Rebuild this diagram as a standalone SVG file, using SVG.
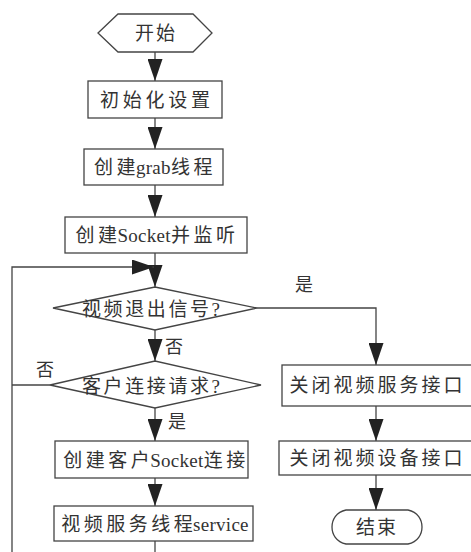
<svg xmlns="http://www.w3.org/2000/svg" width="471" height="552" viewBox="0 0 471 552">
<style>
.shape{fill:#fff;stroke:#444;stroke-width:1.3}
.line{fill:none;stroke:#444;stroke-width:1.3}
.t{font-family:"Liberation Serif","Noto Sans CJK SC",serif;font-size:19px;fill:#333;text-anchor:middle}
.l{font-family:"Liberation Serif","Noto Sans CJK SC",serif;font-size:18px;fill:#333;text-anchor:middle}
.c{letter-spacing:3.5px}
.e{letter-spacing:0.3px}
</style>
<defs>
<marker id="arr" viewBox="0 0 22 15" refX="22" refY="7.5" markerWidth="22" markerHeight="15" markerUnits="userSpaceOnUse" orient="auto">
<path d="M0,0 L22,7.5 L0,15 Z" fill="#222"/>
</marker>
</defs>
<rect width="471" height="552" fill="#fff"/>
<g id="connectors">
<path class="line" d="M155,52 V81" marker-end="url(#arr)"/>
<path class="line" d="M155,118 V149" marker-end="url(#arr)"/>
<path class="line" d="M155,185 V217" marker-end="url(#arr)"/>
<path class="line" d="M155,253 V287" marker-end="url(#arr)"/>
<path class="line" d="M12,552 V267 H154" marker-end="url(#arr)"/>
<path class="line" d="M50,385 H12"/>
<path class="line" d="M257,308 H376 V365" marker-end="url(#arr)"/>
<path class="line" d="M155,330 V361" marker-end="url(#arr)"/>
<path class="line" d="M155,408 V441" marker-end="url(#arr)"/>
<path class="line" d="M155,478 V506" marker-end="url(#arr)"/>
<path class="line" d="M155,541 V552"/>
<path class="line" d="M376,406 V441" marker-end="url(#arr)"/>
<path class="line" d="M376,475 V510" marker-end="url(#arr)"/>
<text class="l" x="304" y="291">是</text>
<text class="l" x="174" y="353">否</text>
<text class="l" x="45" y="376">否</text>
<text class="l" x="177" y="428">是</text>
</g>
<g id="start">
<polygon class="shape" points="98,33 118,14 193,14 212,33 193,52 118,52"/>
<text class="t" x="155" y="40" textLength="40" lengthAdjust="spacing">开始</text>
</g>
<g id="init">
<rect class="shape" x="88" y="81" width="134" height="37"/>
<text class="t" x="155" y="107" textLength="110" lengthAdjust="spacing">初始化设置</text>
</g>
<g id="grab">
<rect class="shape" x="84" y="149" width="139" height="36"/>
<text class="t" x="155" y="174"><tspan class="c">创</tspan><tspan class="e">建grab</tspan><tspan class="c">线程</tspan></text>
</g>
<g id="socket">
<rect class="shape" x="65" y="217" width="182" height="36"/>
<text class="t" x="157" y="242"><tspan class="c">创</tspan><tspan class="e">建Socket</tspan><tspan class="c">并监听</tspan></text>
</g>
<g id="exit-signal">
<polygon class="shape" points="53,308 155,287 257,308 155,330"/>
<text class="t" x="151" y="316" textLength="138" lengthAdjust="spacing">视频退出信号?</text>
</g>
<g id="client-request">
<polygon class="shape" points="50,385 155,361 261,385 155,408"/>
<text class="t" x="151" y="393" textLength="138" lengthAdjust="spacing">客户连接请求?</text>
</g>
<g id="client-socket">
<rect class="shape" x="55" y="441" width="193" height="37"/>
<text class="t" x="156" y="467"><tspan class="c">创建客</tspan><tspan class="e">户Socket</tspan><tspan class="c">连接</tspan></text>
</g>
<g id="service">
<rect class="shape" x="54" y="506" width="199" height="35"/>
<text class="t" x="155" y="531"><tspan class="c">视频服务线</tspan><tspan class="e">程service</tspan></text>
</g>
<g id="close-service">
<rect class="shape" x="282" y="365" width="195" height="41"/>
<text class="t" x="376" y="392" textLength="173" lengthAdjust="spacing">关闭视频服务接口</text>
</g>
<g id="close-device">
<rect class="shape" x="279" y="441" width="198" height="34"/>
<text class="t" x="376" y="465" textLength="173" lengthAdjust="spacing">关闭视频设备接口</text>
</g>
<g id="end">
<path class="shape" d="M346,510 H408 C418,512 422,520 422,527 C422,534 418,542 408,544 H346 C336,542 332,534 332,527 C332,520 336,512 346,510 Z"/>
<text class="t" x="376" y="534" textLength="40" lengthAdjust="spacing">结束</text>
</g>
</svg>
